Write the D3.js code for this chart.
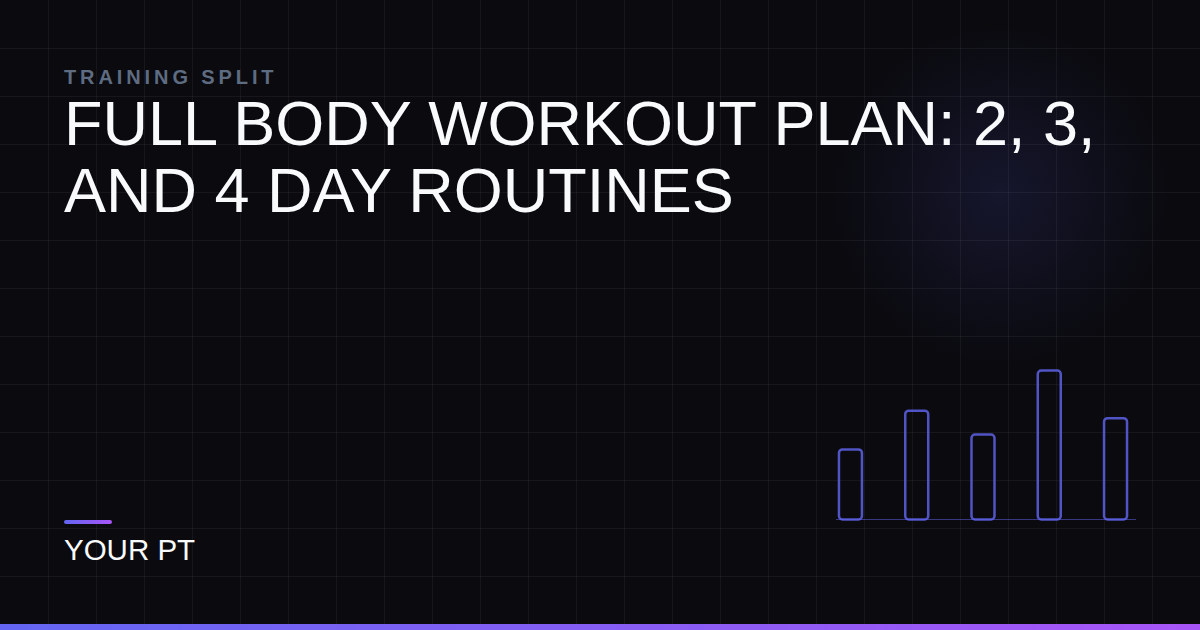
<!DOCTYPE html>
<html>
<head>
<meta charset="utf-8">
<script src="https://cdn.jsdelivr.net/npm/d3@7"></script>
<style>
  html, body { margin: 0; padding: 0; background: #0a0a0f; }
  svg { display: block; }
</style>
</head>
<body>
<svg id="card" width="1200" height="630"></svg>
<script>
// chart data
const kicker = "TRAINING SPLIT";
const titleLines = ["FULL BODY WORKOUT PLAN: 2, 3,", "AND 4 DAY ROUTINES"];
const brand = "YOUR PT";
const sessions = ["1", "2", "3", "4", "5"];
const volume = [47, 73, 57, 100, 68];

const W = 1200, H = 630;
const svg = d3.select("#card");
const defs = svg.append("defs");

const glow = defs.append("radialGradient").attr("id", "glow")
  .attr("cx", 0.5).attr("cy", 0.5).attr("r", 0.5);
glow.append("stop").attr("offset", "0%").attr("stop-color", "#6366f1").attr("stop-opacity", 0.13);
glow.append("stop").attr("offset", "55%").attr("stop-color", "#6366f1").attr("stop-opacity", 0.06);
glow.append("stop").attr("offset", "100%").attr("stop-color", "#6366f1").attr("stop-opacity", 0);

const accent = defs.append("linearGradient").attr("id", "accent")
  .attr("x1", 0).attr("x2", 1).attr("y1", 0).attr("y2", 0);
accent.append("stop").attr("offset", "0%").attr("stop-color", "#6366f1");
accent.append("stop").attr("offset", "100%").attr("stop-color", "#a855f7");

// background
svg.append("rect").attr("width", W).attr("height", H).attr("fill", "#0a0a0f");

svg.append("circle")
  .attr("cx", 1000).attr("cy", 195).attr("r", 170)
  .attr("fill", "url(#glow)");

// grid
const grid = svg.append("g").attr("stroke", "#ffffff").attr("stroke-opacity", 0.05).attr("stroke-width", 1);
grid.selectAll("line.v").data(d3.range(48, W, 48)).join("line")
  .attr("class", "v")
  .attr("x1", d => d + 0.5).attr("x2", d => d + 0.5)
  .attr("y1", 0).attr("y2", H);
grid.selectAll("line.h").data(d3.range(48, H, 48)).join("line")
  .attr("class", "h")
  .attr("y1", d => d + 0.5).attr("y2", d => d + 0.5)
  .attr("x1", 0).attr("x2", W);

// text
svg.append("text")
  .attr("x", 64).attr("y", 83.5)
  .attr("font-family", "Liberation Sans, Arial, sans-serif")
  .attr("font-weight", 700)
  .attr("font-size", 20)
  .attr("letter-spacing", 3.9)
  .attr("fill", "#5e6c82")
  .text(kicker);

svg.append("g").selectAll("text").data(titleLines).join("text")
  .attr("x", 64)
  .attr("y", (d, i) => 144.5 + i * 67.5)
  .attr("font-family", "Liberation Sans, Arial, sans-serif")
  .attr("font-size", 63)
  .attr("fill", "#f8fafc")
  .text(d => d);

svg.append("rect")
  .attr("x", 64).attr("y", 520).attr("width", 48).attr("height", 4).attr("rx", 2)
  .attr("fill", "url(#accent)");

svg.append("text")
  .attr("x", 64).attr("y", 560)
  .attr("font-family", "Liberation Sans, Arial, sans-serif")
  .attr("font-size", 29.5)
  .attr("fill", "#f8fafc")
  .text(brand);

// mini bar chart
const base = 519.5;
const x = d3.scaleBand().domain(sessions).range([833, 1133]).paddingInner(0.653).paddingOuter(0.09);
const y = d3.scaleLinear().domain([0, 100]).range([base, 370.5]);

svg.append("line")
  .attr("x1", 836).attr("x2", 1136)
  .attr("y1", base).attr("y2", base)
  .attr("stroke", "#6366f1").attr("stroke-opacity", 0.5).attr("stroke-width", 1.2);

svg.append("g").selectAll("rect").data(volume).join("rect")
  .attr("x", (d, i) => x(sessions[i]))
  .attr("y", d => y(d))
  .attr("width", x.bandwidth())
  .attr("height", d => base - y(d))
  .attr("rx", 3.5)
  .attr("fill", "none")
  .attr("stroke", "#6366f1")
  .attr("stroke-opacity", 0.8)
  .attr("stroke-width", 2.5);

// bottom strip
svg.append("rect")
  .attr("x", 0).attr("y", 624).attr("width", W).attr("height", 6)
  .attr("fill", "url(#accent)");
</script>
</body>
</html>
